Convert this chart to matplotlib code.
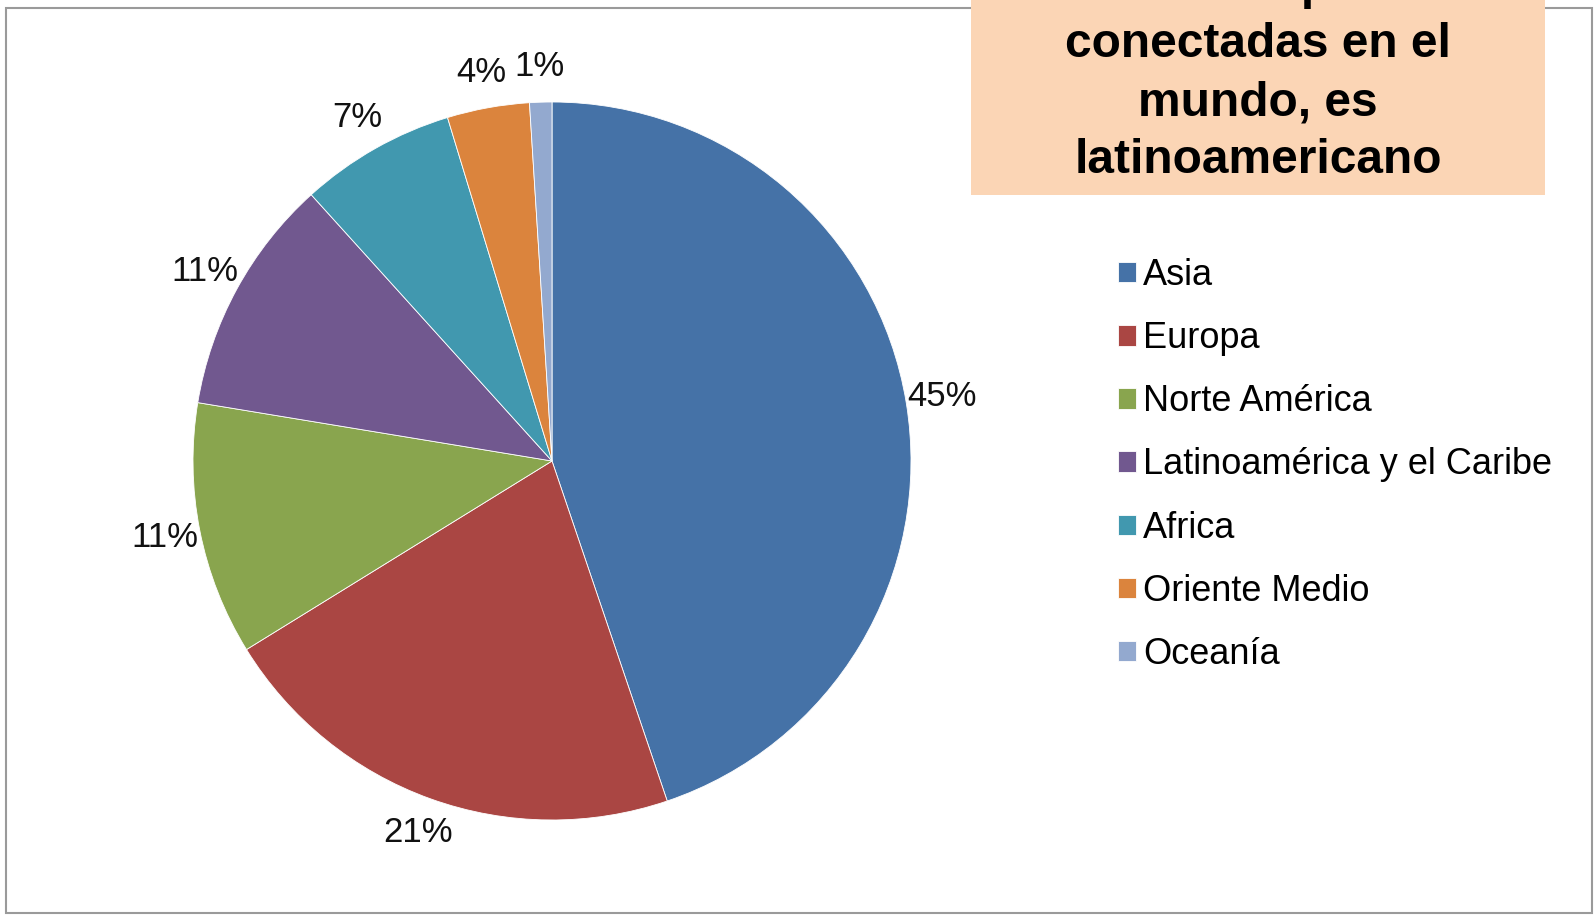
import matplotlib
matplotlib.use('Agg')
import matplotlib.pyplot as plt
from matplotlib.patches import Rectangle

plt.rcParams['font.family'] = ['Liberation Sans', 'DejaVu Sans']

regions = ['Asia', 'Europa', 'Norte América', 'Latinoamérica y el Caribe',
           'Africa', 'Oriente Medio', 'Oceanía']
shares = [44.8, 21.4, 11.4, 10.7, 7.0, 3.7, 1.0]
colors = ['#4572A7', '#AA4643', '#89A54E', '#71588F', '#4198AF', '#DB843D', '#93A9CF']
note = '1 de cada 10 personas\nconectadas en el\nmundo, es\nlatinoamericano'

W, H = 1595, 917
fig = plt.figure(figsize=(W / 100, H / 100), dpi=100)

# outer frame
fig.patches.append(Rectangle((6 / W, 4 / H), 1586 / W, 905 / H, transform=fig.transFigure,
                             fill=False, edgecolor='#9a9a9a', linewidth=1.5))

# pie axes, square in pixels
cx, cy, r = 552, 461, 359
ax = fig.add_axes([(cx - r) / W, (H - cy - r) / H, 2 * r / W, 2 * r / H])
wedges, _, autotexts = ax.pie(shares, colors=colors, startangle=90, counterclock=False,
                              autopct='%.0f%%', pctdistance=1.10,
                              wedgeprops=dict(edgecolor='white', linewidth=0.6),
                              textprops=dict(fontsize=25, color='#111111'))
ax.set_xlim(-1, 1)
ax.set_ylim(-1, 1)
ax.set_aspect('equal')
ax.axis('off')

fig.legend(wedges, regions, loc='upper left', bbox_to_anchor=(1118 / W, 1 - 258 / H),
           frameon=False, fontsize=26, handlelength=0.5, handleheight=0.5,
           handletextpad=0.2, labelspacing=0.78, borderpad=0, borderaxespad=0)

# note box, first line runs off the top edge
fig.patches.append(Rectangle((971 / W, 1 - 195 / H), 574 / W, 200 / H,
                             transform=fig.transFigure, facecolor='#FBD5B5', edgecolor='none'))
fig.text(1258 / W, 1 - 173 / H, note, ha='center', va='baseline', fontsize=34.5,
         fontweight='bold', linespacing=1.37, color='black')

fig.savefig('out.png', dpi=100)
